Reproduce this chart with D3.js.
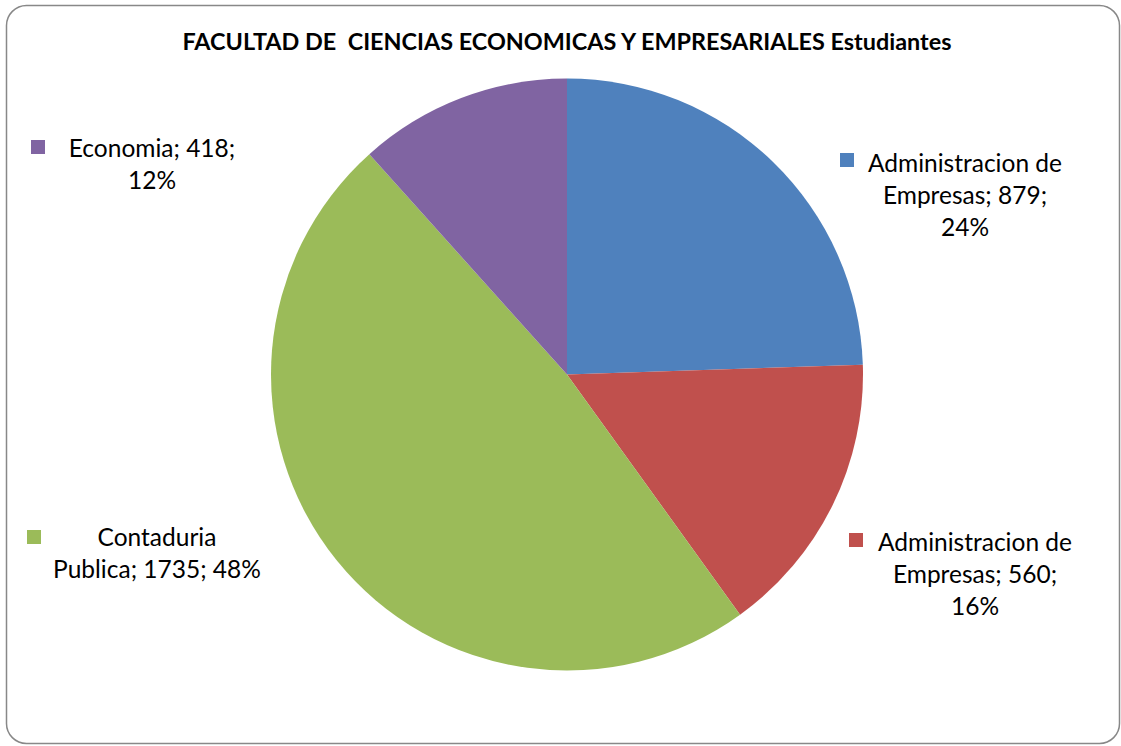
<!DOCTYPE html>
<html><head><meta charset="utf-8">
<script src="https://cdn.jsdelivr.net/npm/d3@7"></script>
<style>body{margin:0;background:#fff}svg{display:block}</style>
</head><body>
<script>
const categories = ["Administracion de Empresas", "Administracion de Empresas", "Contaduria Publica", "Economia"];
const values = [879, 560, 1735, 418];
const percents = ["24%", "16%", "48%", "12%"];
const colors = ["#4F81BD", "#C0504D", "#9BBB59", "#8064A2"];
const labelLines = [
  ["Administracion de", "Empresas; 879;", "24%"],
  ["Administracion de", "Empresas; 560;", "16%"],
  ["Contaduria", "Publica; 1735; 48%"],
  ["Economia; 418;", "12%"]
];
const title = "FACULTAD DE  CIENCIAS ECONOMICAS Y EMPRESARIALES Estudiantes";

const W = 1121, H = 746;
const svg = d3.select("body").append("svg").attr("width", W).attr("height", H);
svg.append("rect").attr("x", 6.5).attr("y", 5.5).attr("width", 1113).attr("height", 738)
  .attr("rx", 20).attr("fill", "#fff").attr("stroke", "#888").attr("stroke-width", 1.5);

svg.append("text").attr("x", 567).attr("y", 50).attr("text-anchor", "middle")
  .attr("font-family", "Lato, 'Open Sans', sans-serif").attr("font-weight", "bold")
  .attr("font-size", 23.4).attr("fill", "#000").style("white-space", "pre").text(title);

const cx = 567, cy = 374.5, R = 296;
const pie = d3.pie().sort(null).value(d => d)(values);
const arc = d3.arc().innerRadius(0).outerRadius(R);
const g = svg.append("g").attr("transform", `translate(${cx},${cy})`);
g.selectAll("path").data(pie).join("path").attr("d", arc)
  .attr("fill", (d, i) => colors[i]);

// label layout: [centerX, firstBaseline, squareX, squareY]
const labelPos = [
  [965, 172, 840, 153],
  [975, 551, 849, 533],
  [157, 546, 27, 530],
  [152, 157, 31, 140]
];
const lg = svg.append("g").attr("font-family", "Lato, 'Open Sans', sans-serif").attr("font-size", 24.5);
labelLines.forEach((lines, i) => {
  const [x, y, sx, sy] = labelPos[i];
  lg.append("rect").attr("x", sx).attr("y", sy).attr("width", 14).attr("height", 14).attr("fill", colors[i]);
  const t = lg.append("text").attr("text-anchor", "middle").attr("fill", "#000");
  lines.forEach((l, k) => t.append("tspan").attr("x", x).attr("y", y + k * 32).text(l));
});
</script>
</body></html>
